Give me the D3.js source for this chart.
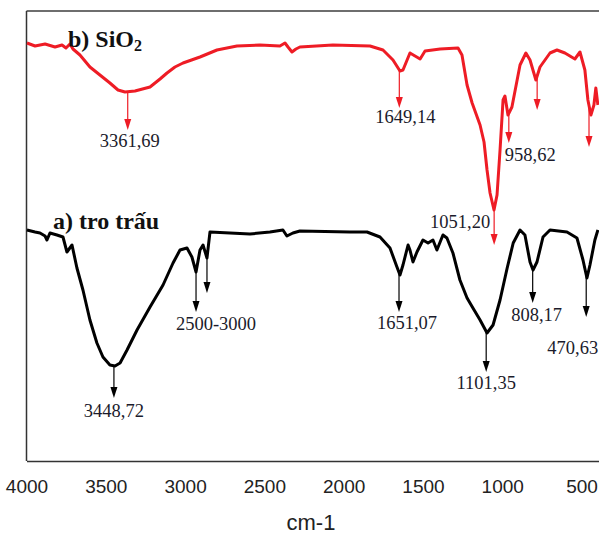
<!DOCTYPE html>
<html lang="vi">
<head>
<meta charset="utf-8">
<script src="https://d3js.org/d3.v7.min.js"></script>
<style>
  body { margin: 0; background: #fff; }
  .peak { font-family: "Liberation Serif", "Times New Roman", serif; font-size: 18.5px; fill: #1b1b2b; }
  .tag { font-family: "Liberation Serif", "Times New Roman", serif; font-size: 24px; font-weight: bold; fill: #111; }
</style>
</head>
<body>
<div id="chart"></div>
<script>
// FTIR spectra, wavenumber (cm-1) vs transmittance (arbitrary units)
var ticks = [4000, 3500, 3000, 2500, 2000, 1500, 1000, 500];

// b) SiO2
var sio2W = [3997, 3946, 3883, 3820, 3776, 3751, 3726, 3707, 3663, 3600, 3537, 3474, 3423, 3379, 3316, 3221, 3158, 3114, 3064, 3013,
  2906, 2799, 2673, 2528, 2402, 2370, 2351, 2326, 2301, 2276, 2068, 1834, 1752, 1689, 1645, 1626, 1582, 1550, 1518, 1487,
  1392, 1279, 1254, 1222, 1190, 1140, 1115, 1096, 1077, 1052, 1033, 1014, 995, 983, 964, 939, 888, 851, 825, 788,
  762, 699, 655, 605, 542, 510, 479, 460, 441, 422, 410, 397];
var sio2T = [83.6, 83.0, 83.4, 82.8, 83.2, 82.6, 83.4, 82.4, 81.2, 78.8, 77.2, 75.6, 74.2, 73.8, 74.0, 74.8, 76.4, 77.6, 78.8, 79.6,
  80.8, 82.2, 83.0, 83.2, 83.0, 83.6, 82.8, 81.8, 82.4, 82.8, 83.2, 83.0, 82.2, 80.2, 78.0, 78.2, 81.6, 81.0, 80.4, 82.0,
  82.4, 82.6, 81.2, 75.2, 71.6, 67.2, 63.8, 58.2, 53.6, 50.2, 53.2, 62.2, 72.2, 73.0, 69.2, 70.8, 79.2, 81.6, 80.2, 76.2,
  78.8, 81.6, 82.2, 81.6, 80.4, 81.8, 78.2, 72.2, 69.2, 71.2, 74.6, 71.2];

// a) tro trau (rice husk ash)
var ashW = [3997, 3946, 3915, 3883, 3871, 3852, 3808, 3770, 3745, 3713, 3682, 3644, 3600, 3556, 3518, 3474, 3442, 3410, 3366, 3303,
  3221, 3139, 3076, 3032, 2988, 2957, 2931, 2906, 2887, 2862, 2843, 2717, 2591, 2465, 2383, 2358, 2320, 2276, 1961, 1853,
  1771, 1708, 1664, 1645, 1626, 1594, 1582, 1563, 1538, 1500, 1468, 1437, 1412, 1374, 1349, 1311, 1267, 1222, 1185, 1140,
  1096, 1058, 1014, 969, 931, 888, 857, 825, 806, 781, 743, 699, 592, 529, 491, 466, 447, 416, 397];
var ashT = [46.2, 45.8, 45.6, 45.0, 44.2, 45.6, 45.2, 44.8, 41.8, 43.2, 38.6, 34.2, 28.2, 23.6, 20.8, 19.2, 19.0, 19.6, 22.2, 26.2,
  30.8, 35.2, 39.6, 42.2, 42.6, 40.8, 37.8, 42.2, 43.2, 40.6, 45.8, 45.6, 45.4, 45.8, 46.2, 45.0, 45.6, 46.0, 45.8, 45.8,
  44.8, 42.6, 38.8, 37.2, 39.2, 43.2, 42.2, 39.8, 41.8, 44.2, 43.6, 44.2, 42.2, 45.2, 44.6, 41.6, 36.2, 32.6, 30.6, 28.2,
  25.6, 27.2, 32.2, 38.6, 43.6, 46.2, 45.2, 39.8, 38.2, 39.8, 44.8, 46.2, 45.8, 44.6, 40.2, 36.6, 39.2, 44.2, 46.2];

// peak markers: wavenumber, arrow tip level, label
var sio2Peaks = [[3361.69, 66.2, "3361,69"], [1649.14, 70.6, "1649,14"], [1051.20, 43.2, "1051,20"],
  [958.62, 63.6, "958,62"], [780, 70.2, ""], [453, 62.8, ""]];
var ashPeaks = [[3448.72, 12.6, "3448,72"], [2931, 29.8, "2500-3000"], [2862, 33.6, ""], [1651.07, 29.8, "1651,07"],
  [1101.35, 17.8, "1101,35"], [808.17, 31.6, "808,17"], [470.63, 28.8, "470,63"]];

var width = 599, height = 534;
var plotTop = 11, plotBottom = 461, plotLeft = 26.5;

var svg = d3.select("#chart").append("svg")
  .attr("width", width)
  .attr("height", height);

var x = d3.scaleLinear().domain([4000, 390]).range([plotLeft, width]);
var y = d3.scaleLinear().domain([0, 90]).range([plotBottom, plotTop]);

// frame
svg.append("line").attr("x1", plotLeft).attr("x2", width).attr("y1", plotTop).attr("y2", plotTop)
  .attr("stroke", "#6e6e6e").attr("stroke-width", 2);
svg.append("line").attr("x1", plotLeft).attr("x2", plotLeft).attr("y1", plotTop).attr("y2", plotBottom)
  .attr("stroke", "#333").attr("stroke-width", 1.5);

var xAxis = svg.append("g")
  .attr("transform", "translate(0," + plotBottom + ")")
  .call(d3.axisBottom(x).tickValues(ticks).tickSize(0).tickSizeOuter(0).tickPadding(18.5).tickFormat(d3.format("d")));
xAxis.select(".domain").attr("stroke", "#333").attr("stroke-width", 1.5);
xAxis.selectAll("text")
  .style("font-family", "'Liberation Sans', Arial, sans-serif")
  .style("font-size", "19px")
  .attr("fill", "#222");

svg.append("text")
  .attr("x", 311).attr("y", 530)
  .attr("text-anchor", "middle")
  .style("font-family", "'Liberation Sans', Arial, sans-serif")
  .style("font-size", "22px")
  .attr("fill", "#222")
  .text("cm-1");

var line = d3.line()
  .x(function(d) { return x(d[0]); })
  .y(function(d) { return y(d[1]); });

function drawSeries(ws, ts, peaks, color, labelPos) {
  var pts = ws.map(function(w, i) { return [w, ts[i]]; });
  var g = svg.append("g");
  g.append("path")
    .datum(pts)
    .attr("fill", "none")
    .attr("stroke", color)
    .attr("stroke-width", 3)
    .attr("stroke-linejoin", "round")
    .attr("d", line);

  // level of the curve at a wavenumber
  var asc = pts.slice().reverse();
  var bis = d3.bisector(function(d) { return d[0]; }).left;
  function level(w) {
    var i = bis(asc, w);
    if (i <= 0) return asc[0][1];
    if (i >= asc.length) return asc[asc.length - 1][1];
    var a = asc[i - 1], b = asc[i];
    return a[1] + (b[1] - a[1]) * (w - a[0]) / (b[0] - a[0]);
  }

  peaks.forEach(function(p) {
    var px = x(p[0]), y0 = y(level(p[0])) + 1, y1 = y(p[1]);
    g.append("line")
      .attr("x1", px).attr("x2", px).attr("y1", y0).attr("y2", y1 - 8)
      .attr("stroke", color).attr("stroke-width", 1.2);
    g.append("path")
      .attr("d", "M" + (px - 3.5) + "," + (y1 - 11) + "L" + (px + 3.5) + "," + (y1 - 11) + "L" + px + "," + y1 + "Z")
      .attr("fill", color);
    if (p[2]) {
      var lp = labelPos[p[2]] || [0, 17, "middle"];
      g.append("text")
        .attr("class", "peak")
        .attr("x", px + lp[0]).attr("y", y1 + lp[1])
        .attr("text-anchor", lp[2])
        .text(p[2]);
    }
  });
}

drawSeries(sio2W, sio2T, sio2Peaks, "#ee1c25", {
  "3361,69": [2, 17, "middle"],
  "1649,14": [6, 15, "middle"],
  "1051,20": [-4, -17, "end"],
  "958,62": [-4, 18, "start"]
});
drawSeries(ashW, ashT, ashPeaks, "#000", {
  "3448,72": [0, 19, "middle"],
  "2500-3000": [20, 18, "middle"],
  "1651,07": [8, 17, "middle"],
  "1101,35": [0, 17, "middle"],
  "808,17": [4, 18, "middle"],
  "470,63": [12, 37, "end"]
});

// series tags
var tagB = svg.append("text").attr("class", "tag").attr("x", 68).attr("y", 47);
tagB.append("tspan").text("b) SiO");
tagB.append("tspan").attr("dy", 4).style("font-size", "16px").text("2");
svg.append("text").attr("class", "tag").attr("x", 53).attr("y", 229).text("a) tro trấu");
</script>
</body>
</html>
